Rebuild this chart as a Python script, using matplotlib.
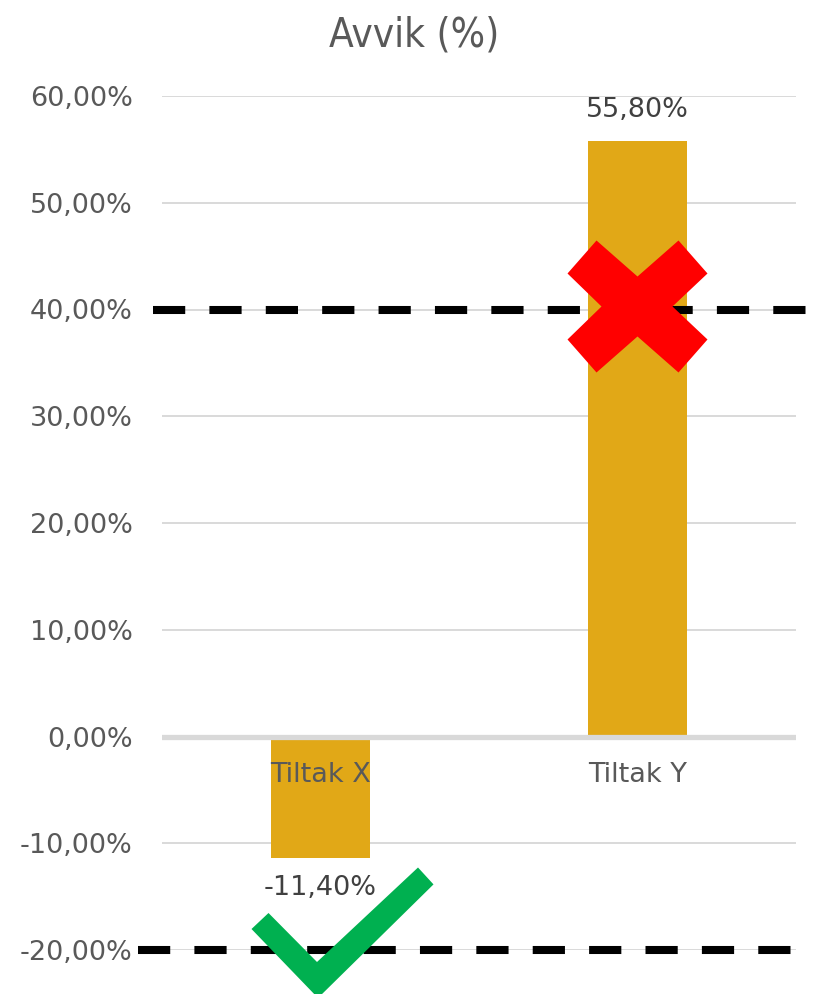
import numpy as np
import matplotlib
matplotlib.use("Agg")
import matplotlib.pyplot as plt
import matplotlib.transforms as mtransforms
from matplotlib.patches import Polygon

# ── data ──────────────────────────────────────────────────────────────────────
categories = ["Tiltak X", "Tiltak Y"]
avvik      = [-11.4, 55.8]           # percent
thresholds = [40.0, -20.0]           # dashed reference lines
yticks     = [-20, -10, 0, 10, 20, 30, 40, 50, 60]

BAR_COL  = "#E1A817"
GRID_COL = "#D9D9D9"
TXT_COL  = "#595959"
LBL_COL  = "#404040"

plt.rcParams.update({"font.family": "DejaVu Sans"})

DPI = 100
fig = plt.figure(figsize=(8.13, 9.94), dpi=DPI)
ax = fig.add_axes([162 / 813, 44 / 994, (796 - 162) / 813, (950 - 96) / 994])

x = np.arange(len(categories))
ax.bar(x, avvik, width=0.31, color=BAR_COL, zorder=2)

ax.set_xlim(-0.5, 1.5)
ax.set_ylim(-20, 60)
ax.set_yticks(yticks)
ax.set_yticklabels([f"{v:.2f}%".replace(".", ",") for v in yticks])
ax.tick_params(axis="y", length=0, pad=21, labelsize=19.5, labelcolor=TXT_COL)
ax.set_xticks([])
for s in ax.spines.values():
    s.set_visible(False)

# gridlines + thick zero line
for v in yticks:
    if v == 0:
        continue
    ax.axhline(v, color=GRID_COL, lw=1.4, zorder=1)
ax.axhline(0, color=GRID_COL, lw=3.8, zorder=3)

# category labels just below zero line
for xi, name in zip(x, categories):
    ax.annotate(name, (xi, 0), xytext=(0, -38), textcoords="offset pixels",
                ha="center", va="center", fontsize=19.5, color=TXT_COL, zorder=5)

# value labels
for xi, v in zip(x, avvik):
    off = 31 if v > 0 else -30
    ax.annotate(f"{v:.2f}%".replace(".", ","), (xi, v), xytext=(0, off),
                textcoords="offset pixels", ha="center", va="center",
                fontsize=19.5, color=LBL_COL, zorder=5)

# dashed threshold lines (extend beyond plot area like the drawn shapes)
blend = mtransforms.blended_transform_factory(fig.transFigure, ax.transData)
for y, x0 in zip(thresholds, [153 / 813, 138 / 813]):
    ax.plot([x0, 1.0], [y, y], transform=blend, color="black", lw=5.8,
            dashes=(4, 3), clip_on=False, zorder=6, solid_capstyle="butt",
            dash_capstyle="butt")

# ── red cross over Tiltak Y (offsets in pixels, y up) ────────────────────────
cross = np.array([
    [-41, 66], [-70, 33], [-36, 0], [-70, -33], [-41, -66], [0, -30],
    [41, -66], [70, -33], [35, 0], [70, 33], [41, 66], [0, 30],
]) + [0, 3]
t_cross = fig.dpi_scale_trans + mtransforms.ScaledTranslation(1, 40, ax.transData)
ax.add_patch(Polygon(cross / DPI, closed=True, facecolor="#FF0000",
                     edgecolor="none", transform=t_cross, clip_on=False, zorder=7))

# ── green check under Tiltak X ───────────────────────────────────────────────
check = np.array([
    [-69, 21], [-52, 37], [-3.5, -12], [97.5, 82.5],
    [113, 65.6], [-2.5, -48],
])
t_check = fig.dpi_scale_trans + mtransforms.ScaledTranslation(0, -20, ax.transData)
ax.add_patch(Polygon(check / DPI, closed=True, facecolor="#00B050",
                     edgecolor="none", transform=t_check, clip_on=False, zorder=7))

fig.text(414 / 813, 1 - 35 / 994, "Avvik (%)", ha="center", va="center",
         fontsize=29, color=TXT_COL,
         family=["DejaVu Sans Condensed", "DejaVu Sans"], fontstretch="condensed")

fig.savefig("out.png", dpi=DPI)
